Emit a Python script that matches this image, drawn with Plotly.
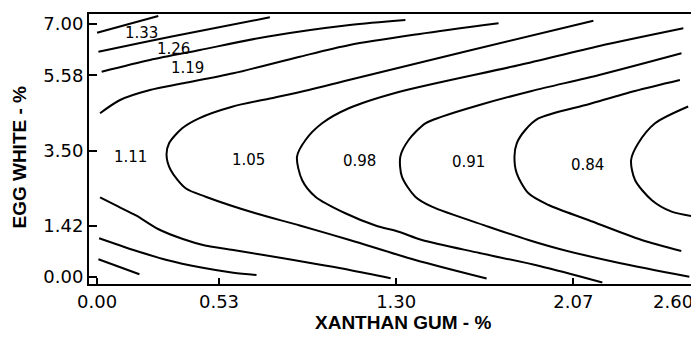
import plotly.graph_objects as go

# Tick values (percent)
x_ticks = [0.00, 0.53, 1.30, 2.07, 2.60]
y_ticks = [0.00, 1.42, 3.50, 5.58, 7.00]

# Contour lines: x = xanthan gum %, y = egg white %
u1_x = [0.00, 0.266]
u1_y = [6.760, 7.222]

u2_x = [0.006, 0.187, 0.447, 0.751]
u2_y = [6.234, 6.475, 6.807, 7.186]

u3_x = [0.020, 0.230, 0.447, 0.737, 1.098, 1.340]
u3_y = [5.681, 6.004, 6.281, 6.649, 6.973, 7.111]

u4_x = [0.013, 0.100, 0.230, 0.375, 0.592, 0.881, 1.098, 1.402, 1.745]
u4_y = [4.530, 4.898, 5.174, 5.360, 5.636, 6.096, 6.419, 6.724, 7.020]

c1_x = [2.157, 1.619, 1.094, 0.920, 0.751, 0.587, 0.443, 0.370, 0.313, 0.302,
        0.320, 0.385, 0.472, 0.689, 0.881, 1.098, 1.383, 1.693]
c1_y = [7.092, 6.267, 5.451, 5.174, 4.939, 4.712, 4.391, 4.115, 3.699, 3.376,
        2.961, 2.454, 2.222, 1.763, 1.425, 1.024, 0.470, -0.042]

c2_x = [2.548, 2.183, 1.836, 1.311, 1.094, 0.978, 0.906, 0.869, 0.891, 0.949,
        1.079, 1.210, 1.311, 1.412, 1.662, 1.923, 2.196]
c2_y = [6.882, 6.392, 5.866, 5.119, 4.668, 4.253, 3.791, 3.329, 2.684, 2.222,
        1.763, 1.425, 1.253, 1.024, 0.664, 0.304, -0.152]

c3_x = [2.540, 2.182, 1.889, 1.662, 1.499, 1.427, 1.354, 1.318, 1.325, 1.383,
        1.455, 1.701, 1.875, 2.010, 2.270, 2.574]
c3_y = [6.190, 5.589, 5.147, 4.759, 4.436, 4.253, 3.791, 3.329, 2.775, 2.222,
        1.945, 1.392, 1.024, 0.775, 0.387, 0.008]

c4_x = [2.533, 2.338, 2.140, 1.918, 1.861, 1.824, 1.814, 1.824, 1.875, 1.962,
        2.135, 2.367, 2.539]
c4_y = [5.451, 5.147, 4.787, 4.386, 4.067, 3.699, 3.329, 2.869, 2.316, 1.992,
        1.577, 1.024, 0.719]

c5_x = [2.569, 2.425, 2.352, 2.321, 2.338, 2.410, 2.497, 2.584]
c5_y = [4.718, 4.253, 3.699, 3.237, 2.684, 2.131, 1.807, 1.688]

l1_x = [0.013, 0.091, 0.169, 0.265, 0.373, 0.469, 0.592, 0.809, 1.098, 1.276]
l1_y = [2.205, 1.951, 1.702, 1.328, 1.051, 0.872, 0.747, 0.517, 0.194, -0.036]

l2_x = [0.009, 0.158, 0.303, 0.447, 0.592, 0.693]
l2_y = [1.071, 0.747, 0.470, 0.268, 0.119, 0.055]

l3_x = [0.006, 0.184]
l3_y = [0.490, 0.075]

# Contour value labels
label_text = ["1.33", "1.26", "1.19", "1.11", "1.05", "0.98", "0.91", "0.84"]
label_x = [0.191, 0.331, 0.394, 0.146, 0.657, 1.140, 1.615, 2.131]
label_y = [6.743, 6.300, 5.791, 3.329, 3.237, 3.218, 3.190, 3.099]

contours = [(u1_x, u1_y), (u2_x, u2_y), (u3_x, u3_y), (u4_x, u4_y),
            (c1_x, c1_y), (c2_x, c2_y), (c3_x, c3_y), (c4_x, c4_y),
            (c5_x, c5_y), (l1_x, l1_y), (l2_x, l2_y), (l3_x, l3_y)]

fig = go.Figure()
for cx, cy in contours:
    fig.add_trace(go.Scatter(x=cx, y=cy, mode="lines",
                             line=dict(color="black", width=2, shape="spline", smoothing=0.8),
                             hoverinfo="skip", showlegend=False))

for t, lx, ly in zip(label_text, label_x, label_y):
    fig.add_annotation(x=lx, y=ly, text=t, showarrow=False,
                       font=dict(family="DejaVu Sans", size=15, color="black"),
                       xanchor="center", yanchor="middle")

# Last x tick label is drawn right-aligned so it stays inside the figure
fig.add_annotation(x=x_ticks[-1], y=0, xref="x", yref="paper", yshift=-5,
                   text=f"{x_ticks[-1]:.2f}", showarrow=False,
                   font=dict(family="DejaVu Sans", size=18, color="black"),
                   xanchor="right", yanchor="top")

fig.add_annotation(xref="paper", yref="paper", x=0.5165, y=-0.141,
                   text="<b>XANTHAN GUM - %</b>", showarrow=False,
                   font=dict(family="Liberation Sans", size=19, color="black"),
                   xanchor="center", yanchor="middle")
fig.add_annotation(xref="paper", yref="paper", x=-0.1137, y=0.472,
                   text="<b>EGG WHITE - %</b>", showarrow=False, textangle=-90,
                   font=dict(family="Liberation Sans", size=19, color="black"),
                   xanchor="center", yanchor="middle")

# The page body has an 8px default margin, so the figure is sized to fit the window
fig.update_layout(
    width=691, height=334,
    margin=dict(l=81, r=3, t=6, b=58, autoexpand=False),
    paper_bgcolor="white", plot_bgcolor="white",
    showlegend=False,
)
fig.update_xaxes(range=[-0.035, 2.603], tickvals=x_ticks,
                 ticktext=[f"{v:.2f}" for v in x_ticks[:-1]] + [""],
                 ticks="inside", ticklen=6, tickwidth=2, tickcolor="black",
                 showline=True, linewidth=2, linecolor="black", mirror=True,
                 showgrid=False, zeroline=False, automargin=False,
                 tickfont=dict(family="DejaVu Sans", size=18, color="black"))
fig.update_yaxes(range=[-0.194, 7.277], tickvals=y_ticks,
                 ticktext=[f"{v:.2f}" for v in y_ticks],
                 ticks="inside", ticklen=8, tickwidth=2, tickcolor="black",
                 showline=True, linewidth=2, linecolor="black", mirror=True,
                 showgrid=False, zeroline=False, automargin=False,
                 tickfont=dict(family="DejaVu Sans", size=18, color="black"))

fig.write_html("out.html")
